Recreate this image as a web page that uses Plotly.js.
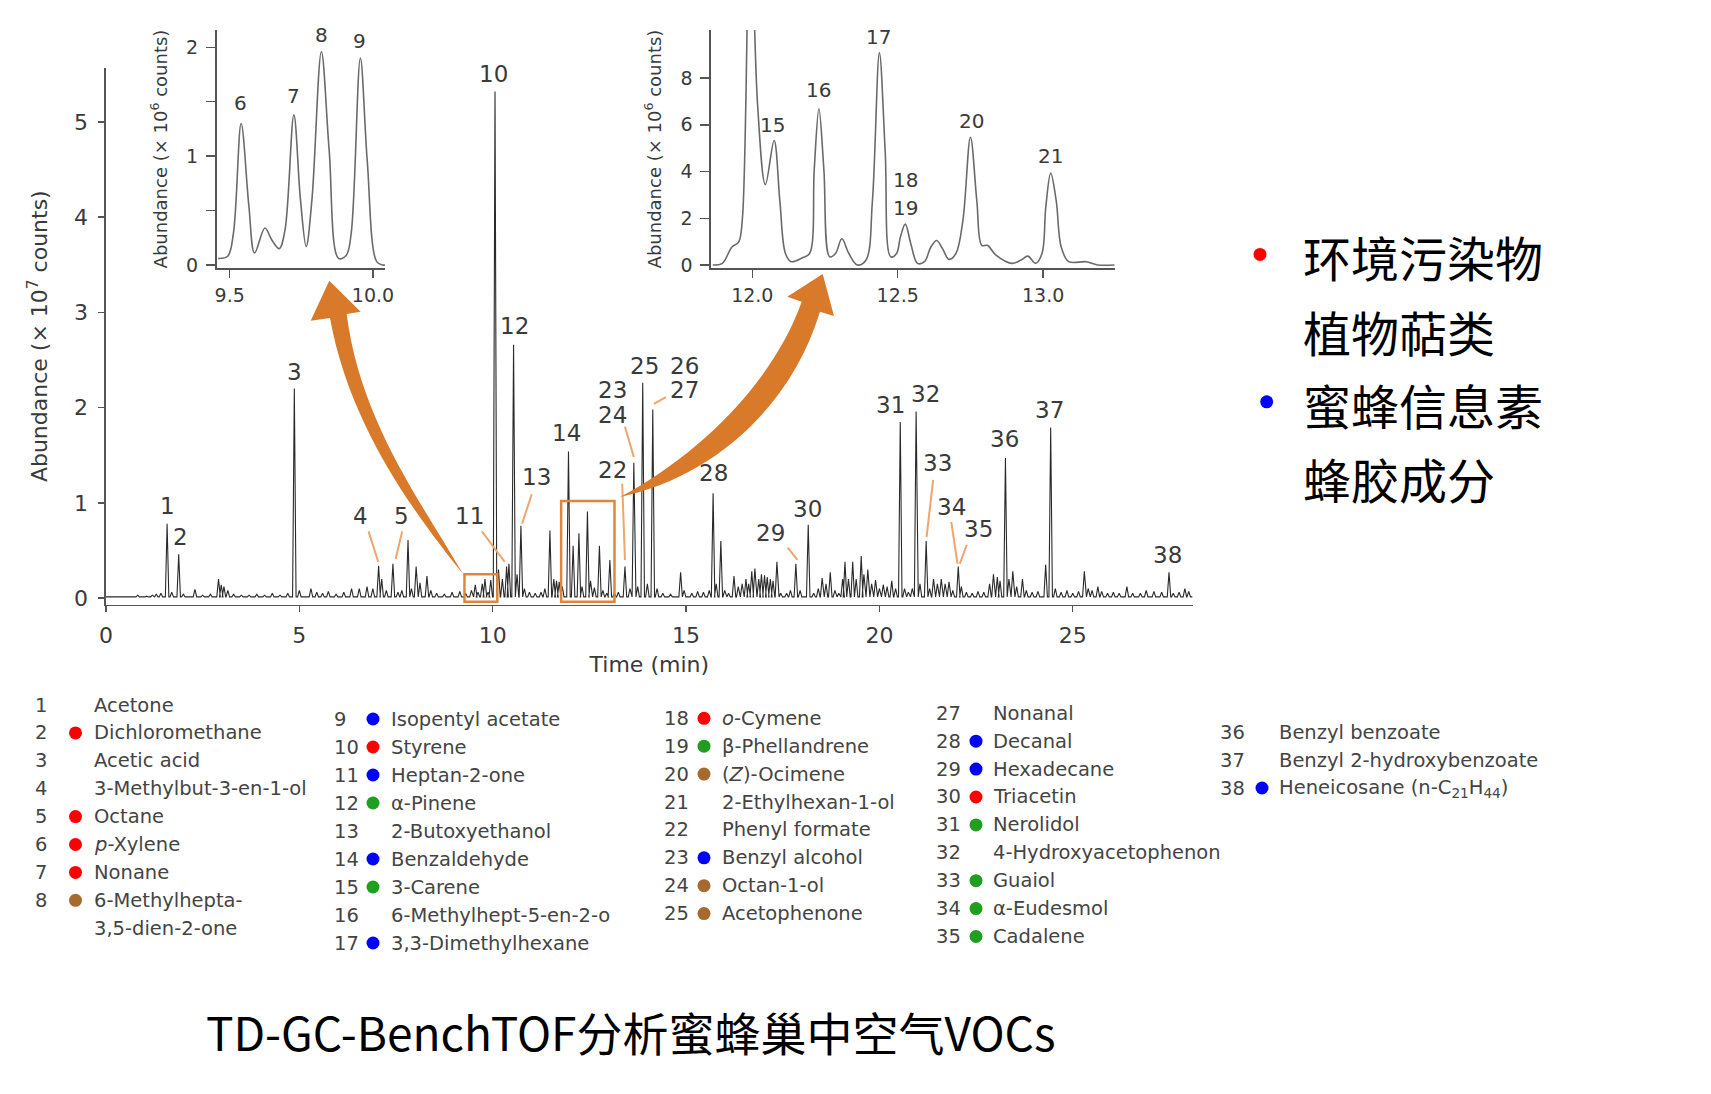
<!DOCTYPE html>
<html><head><meta charset="utf-8">
<script src="https://cdn.plot.ly/plotly-3.0.1.min.js"></script>
<style>html,body{margin:0;padding:0;background:#fff}#chart{width:1711px;height:1094px}</style>
</head><body><div id="chart"></div>
<script>
// ---------------- DATA ----------------
// Main chromatogram: peak retention times (min) and apex abundances (x 10^7 counts)
const peakRT = [0.3,0.82,1.05,1.2,1.3,1.42,1.58,1.7,1.88,2.0,2.3,2.5,2.7,2.91,2.98,3.05,3.15,3.3,3.5,3.7,3.9,4.1,4.3,4.5,4.7,4.87,5.0,5.3,5.45,5.6,5.75,5.95,6.15,6.35,6.55,6.75,6.9,7.05,7.13,7.25,7.42,7.55,7.65,7.81,7.9,8.02,8.12,8.3,8.4,8.55,8.75,8.95,9.15,9.3,9.45,9.55,9.62,9.73,9.8,9.88,9.95,10.06,10.15,10.25,10.36,10.42,10.54,10.63,10.73,10.82,10.95,11.1,11.25,11.35,11.48,11.58,11.65,11.72,11.8,11.96,12.08,12.23,12.31,12.45,12.53,12.63,12.76,12.85,12.95,13.03,13.15,13.25,13.42,13.55,13.65,13.75,13.88,14.0,14.14,14.25,14.4,14.6,14.86,14.95,15.15,15.3,15.45,15.6,15.7,15.78,15.9,16.0,16.1,16.24,16.35,16.45,16.55,16.62,16.7,16.78,16.88,16.95,17.03,17.1,17.18,17.25,17.35,17.45,17.6,17.7,17.84,17.95,18.16,18.3,18.42,18.52,18.62,18.73,18.85,18.95,19.05,19.11,19.2,19.31,19.4,19.53,19.6,19.7,19.8,19.9,20.0,20.1,20.2,20.32,20.42,20.54,20.65,20.75,20.85,20.95,21.05,21.21,21.3,21.4,21.5,21.6,21.7,21.8,21.9,22.04,22.12,22.25,22.4,22.55,22.7,22.85,22.95,23.05,23.12,23.26,23.35,23.45,23.55,23.7,23.8,23.95,24.1,24.3,24.43,24.55,24.7,24.85,25.0,25.15,25.3,25.4,25.5,25.65,25.75,25.9,26.05,26.2,26.4,26.55,26.75,26.9,27.1,27.3,27.49,27.6,27.75,27.9,28.0];
const peakHeight = [0.01,0.03,0.02,0.03,0.04,0.05,0.78,0.06,0.46,0.04,0.09,0.03,0.04,0.2,0.14,0.12,0.08,0.04,0.03,0.03,0.04,0.03,0.05,0.03,0.05,2.2,0.08,0.1,0.06,0.05,0.07,0.04,0.06,0.1,0.1,0.12,0.1,0.34,0.2,0.08,0.36,0.06,0.08,0.61,0.1,0.33,0.16,0.23,0.08,0.05,0.04,0.06,0.07,0.05,0.08,0.14,0.06,0.15,0.2,0.06,0.19,5.32,0.3,0.2,0.33,0.36,2.66,0.25,0.76,0.1,0.06,0.05,0.06,0.1,0.71,0.2,0.18,0.17,0.12,1.54,0.55,0.68,0.12,0.91,0.18,0.11,0.55,0.08,0.05,0.4,0.05,0.06,0.33,0.1,1.42,0.12,2.26,0.15,1.98,0.1,0.05,0.04,0.27,0.08,0.05,0.07,0.06,0.08,1.1,0.15,0.6,0.08,0.05,0.23,0.12,0.15,0.2,0.15,0.28,0.31,0.2,0.25,0.24,0.22,0.2,0.18,0.38,0.05,0.05,0.08,0.36,0.08,0.77,0.05,0.1,0.21,0.15,0.27,0.08,0.05,0.2,0.38,0.2,0.38,0.2,0.44,0.25,0.3,0.15,0.19,0.1,0.14,0.12,0.18,0.1,1.85,0.1,0.06,0.1,1.96,0.15,0.6,0.1,0.2,0.15,0.2,0.15,0.17,0.08,0.33,0.12,0.06,0.05,0.07,0.06,0.15,0.25,0.22,0.18,1.47,0.2,0.28,0.12,0.2,0.08,0.06,0.07,0.35,1.79,0.1,0.06,0.08,0.05,0.07,0.28,0.1,0.08,0.12,0.07,0.05,0.06,0.05,0.12,0.05,0.05,0.08,0.07,0.06,0.27,0.05,0.06,0.1,0.07];

// Inset 1 (9.45-10.05 min), abundance x 10^6 counts
const inset1Time = [9.46,9.493,9.513,9.54,9.567,9.587,9.623,9.647,9.673,9.693,9.724,9.747,9.767,9.787,9.82,9.847,9.88,9.907,9.924,9.956,9.98,10.013,10.033,10.042];
const inset1Abund = [0.06,0.08,0.29,1.30,0.54,0.11,0.34,0.23,0.15,0.32,1.38,0.60,0.17,0.60,1.96,1.06,0.06,0.09,0.29,1.90,0.96,0.03,0.0,0.0];

// Inset 2 (11.86-13.25 min), abundance x 10^6 counts
const inset2Time = [11.864,11.897,11.93,11.953,11.966,11.993,12.018,12.045,12.075,12.095,12.114,12.134,12.174,12.197,12.213,12.229,12.246,12.266,12.286,12.308,12.332,12.361,12.391,12.413,12.437,12.457,12.476,12.496,12.509,12.526,12.545,12.568,12.592,12.614,12.634,12.654,12.676,12.7,12.724,12.75,12.772,12.789,12.808,12.838,12.891,12.924,12.947,12.974,12.996,13.009,13.026,13.045,13.062,13.088,13.147,13.187,13.246];
const inset2Abund = [0,0.07,0.77,0.98,2.0,15.4,6.9,3.44,5.33,2.7,0.49,0.14,0.32,0.49,4.1,6.69,4.1,0.35,0.49,1.12,0.49,0,0.21,2.74,9.08,4.84,0.35,0.49,1.19,1.75,0.91,0.07,0.14,0.77,1.05,0.7,0.24,0.49,1.9,5.47,2.74,0.84,0.84,0.42,0.07,0.21,0.38,0.07,0.49,2.46,3.93,2.74,0.77,0.14,0.14,0,0];

// Peak labels
const mainLabelText = ['1','2','3','4','5','10','11','12','13','14','22','23','24','25','26','27','28','29','30','31','32','33','34','35','36','37','38'];
const mainLabelRT   = [1.58,1.92,4.87,6.59,7.63,10.03,9.41,10.56,11.13,11.92,13.1,13.1,13.1,13.92,14.96,14.96,15.72,17.18,18.14,20.28,21.18,21.49,21.86,22.56,23.24,24.39,27.46];
const mainLabelAbund= [0.97,0.64,2.37,0.86,0.86,5.5,0.86,2.86,1.27,1.73,1.35,2.19,1.92,2.44,2.44,2.19,1.31,0.68,0.94,2.03,2.14,1.42,0.96,0.72,1.67,1.98,0.45];
const inset1LabelText = ['6','7','8','9'];
const inset1LabelRT = [9.537,9.724,9.82,9.953];
const inset1LabelAbund = [1.49,1.55,2.11,2.06];
const inset2LabelText = ['15','16','17','18','19','20','21'];
const inset2LabelRT = [12.068,12.226,12.434,12.525,12.525,12.753,13.025];
const inset2LabelAbund = [6.0,7.48,9.78,3.65,2.46,6.18,4.67];

// Compound list
const compoundNo = [1,2,3,4,5,6,7,8,9,10,11,12,13,14,15,16,17,18,19,20,21,22,23,24,25,27,28,29,30,31,32,33,34,35,36,37,38];
const compoundName = ['Acetone','Dichloromethane','Acetic acid','3-Methylbut-3-en-1-ol','Octane','<i>p</i>-Xylene','Nonane','6-Methylhepta-<br>3,5-dien-2-one','Isopentyl acetate','Styrene','Heptan-2-one','α-Pinene','2-Butoxyethanol','Benzaldehyde','3-Carene','6-Methylhept-5-en-2-o','3,3-Dimethylhexane','<i>o</i>-Cymene','β-Phellandrene','(<i>Z</i>)-Ocimene','2-Ethylhexan-1-ol','Phenyl formate','Benzyl alcohol','Octan-1-ol','Acetophenone','Nonanal','Decanal','Hexadecane','Triacetin','Nerolidol','4-Hydroxyacetophenon','Guaiol','α-Eudesmol','Cadalene','Benzyl benzoate','Benzyl 2-hydroxybenzoate','Heneicosane (n-C<sub>21</sub>H<sub>44</sub>)'];
const compoundClass = ['','P','','','P','P','P','R','B','P','B','T','','B','T','','B','P','T','R','','','B','R','R','','B','B','P','T','','T','T','T','','','B'];

// Category legend
const legendLabels = ['环境污染物','植物萜类','蜜蜂信息素','蜂胶成分'];
const legendClass = ['P','','B',''];
const titleText = 'TD-GC-BenchTOF分析蜜蜂巢中空气VOCs';

// ---------------- STYLE / LAYOUT ----------------
const W = 1711, H = 1094;
const px = x => x / W, py = y => 1 - y / H;
const classColor = {P:'#ff0000', T:'#1f9e1f', B:'#0000ff', R:'#a8692f'};
const ORANGE = '#d97a2b', LEADER = '#f0a46e';
const AXC = '#555', TXT = '#3a3a3a';
const tickFont = {family:'DejaVu Sans', size:22, color:TXT};
const smallTick = {family:'DejaVu Sans', size:19, color:TXT};

// main chromatogram spikes
const BASE = 0.012, HW = 0.045;
const order = peakRT.map((t,i)=>i).sort((a,b)=>peakRT[a]-peakRT[b]);
const mx = [0], my = [BASE];
order.forEach(i => { const t = peakRT[i];
  mx.push(t-HW, t, t+HW); my.push(BASE, peakHeight[i], BASE); });
mx.push(28.1); my.push(BASE);

const traces = [
  {x:mx, y:my, type:'scatter', mode:'lines', line:{color:'#2a2a2a', width:1.1}, xaxis:'x', yaxis:'y', hoverinfo:'skip'},
  {x:inset1Time, y:inset1Abund, type:'scatter', mode:'lines', line:{color:'#6a6a6a', width:1.6, shape:'spline', smoothing:1}, xaxis:'x2', yaxis:'y2', hoverinfo:'skip'},
  {x:inset2Time, y:inset2Abund, type:'scatter', mode:'lines', line:{color:'#6a6a6a', width:1.6, shape:'spline', smoothing:1}, xaxis:'x3', yaxis:'y3', hoverinfo:'skip'}
];

const annotations = [];
mainLabelText.forEach((t,i)=>annotations.push({xref:'x', yref:'y', x:mainLabelRT[i], y:mainLabelAbund[i], text:t, showarrow:false, xanchor:'center', yanchor:'middle', font:{family:'DejaVu Sans', size:23, color:TXT}}));
inset1LabelText.forEach((t,i)=>annotations.push({xref:'x2', yref:'y2', x:inset1LabelRT[i], y:inset1LabelAbund[i], text:t, showarrow:false, font:{family:'DejaVu Sans', size:20, color:TXT}}));
inset2LabelText.forEach((t,i)=>annotations.push({xref:'x3', yref:'y3', x:inset2LabelRT[i], y:inset2LabelAbund[i], text:t, showarrow:false, font:{family:'DejaVu Sans', size:20, color:TXT}}));

const shapes = [];
// zoom boxes
shapes.push({type:'rect', xref:'x', yref:'y', x0:9.27, x1:10.12, y0:-0.04, y1:0.25, line:{color:'#e0863a', width:2.5}});
shapes.push({type:'rect', xref:'x', yref:'y', x0:11.77, x1:13.15, y0:-0.04, y1:1.02, line:{color:'#e0863a', width:2.5}});
// leader lines
[[6.79,0.70,7.04,0.38],[7.66,0.70,7.49,0.41],[9.72,0.70,10.31,0.38],[11.01,1.09,10.76,0.78],[13.35,1.2,13.42,0.4],[13.42,1.8,13.65,1.48],[14.17,2.04,14.48,2.11],[17.63,0.53,17.88,0.4],[21.39,1.24,21.22,0.64],[21.86,0.80,22.02,0.36],[22.26,0.56,22.08,0.36]]
 .forEach(l=>shapes.push({type:'line', xref:'x', yref:'y', x0:l[0], y0:l[1], x1:l[2], y1:l[3], line:{color:LEADER, width:2}}));
// curved arrows (pixel geometry -> paper)
function pathFromPx(cmds){ return cmds.map(c => typeof c === 'string' ? c : (px(c[0]).toFixed(5)+','+py(c[1]).toFixed(5))).join(' '); }
shapes.push({type:'path', xref:'paper', yref:'paper', layer:'above', fillcolor:ORANGE, line:{width:0},
  path: pathFromPx(['M',[463,574],'C',[420,520],[350,430],[330,318],'L',[310.7,320.7],'L',[329.3,280.7],'L',[360.7,311.7],'L',[346.7,314],'C',[360,420],[420,500],[463,574],'Z'])});
shapes.push({type:'path', xref:'paper', yref:'paper', layer:'above', fillcolor:ORANGE, line:{width:0},
  path: pathFromPx(['M',[620,497],'C',[690,460],[770,390],[801.7,301.7],'L',[787.3,296.7],'L',[822.7,274],'L',[834,316],'L',[820,311.7],'C',[790,410],[710,478],[620,497],'Z'])});

// compound list columns
const cols = [
  {first:0, n:9, numX:33, dotX:75.5, nameX:92, y0:705, dy:27.9},
  {first:8, n:9, numX:332, dotX:373, nameX:389, y0:719, dy:28},
  {first:17, n:8, numX:662, dotX:704, nameX:720, y0:718.3, dy:27.9},
  {first:25, n:9, numX:934, dotX:976, nameX:991, y0:713.3, dy:27.9},
  {first:34, n:3, numX:1218, dotX:1262, nameX:1277, y0:732.2, dy:27.9}
];
const listFont = {family:'DejaVu Sans', size:19.5, color:'#444'};
const R = 6.5;
cols.forEach(c=>{
  let row = 0;
  for (let k=0; k<c.n && row<c.n; k++){
    const i = c.first + k;
    if (i >= compoundNo.length) break;
    if (c.first===0 && i>7) break;
    const y = c.y0 + row*c.dy;
    annotations.push({xref:'paper', yref:'paper', x:px(c.numX), y:py(y), xanchor:'left', yanchor:'middle', text:String(compoundNo[i]), showarrow:false, font:listFont});
    const lines = compoundName[i].split('<br>');
    lines.forEach((ln,j)=>annotations.push({xref:'paper', yref:'paper', x:px(c.nameX), y:py(y + j*c.dy), xanchor:'left', yanchor:'middle', text:ln, showarrow:false, font:listFont}));
    const cl = compoundClass[i];
    if (cl) shapes.push({type:'circle', xref:'paper', yref:'paper', x0:px(c.dotX-R), x1:px(c.dotX+R), y0:py(y+R), y1:py(y-R), fillcolor:classColor[cl], line:{width:0}});
    row += lines.length;
  }
});

// category legend on the right
const legY = [256.4, 330.6, 403.8, 478];
const legDotX = [1260, 0, 1266.7, 0];
legendLabels.forEach((t,i)=>{
  annotations.push({xref:'paper', yref:'paper', x:px(1301), y:py(legY[i]), xanchor:'left', yanchor:'middle', text:t, showarrow:false, font:{family:'Noto Sans CJK SC', size:48, color:'#000'}});
  if (legendClass[i]) shapes.push({type:'circle', xref:'paper', yref:'paper', x0:px(legDotX[i]-6.5), x1:px(legDotX[i]+6.5), y0:py(legY[i]-2+6.5), y1:py(legY[i]-2-6.5), fillcolor:classColor[legendClass[i]], line:{width:0}});
});

const axisCommon = {showline:true, linecolor:AXC, linewidth:1.6, ticks:'outside', tickcolor:AXC, tickwidth:1.4, showgrid:false, zeroline:false};

const layout = {
  width:W, height:H, margin:{l:0, r:0, t:0, b:0},
  paper_bgcolor:'#fff', plot_bgcolor:'rgba(0,0,0,0)', showlegend:false,
  title:{text:titleText, x:px(630.7), xanchor:'center', y:py(1034.5), yanchor:'middle', yref:'paper', font:{family:'Noto Sans CJK SC', size:46, color:'#000'}},
  xaxis: Object.assign({}, axisCommon, {domain:[px(106), px(1192.6)], range:[0,28.1], anchor:'y', tickvals:[0,5,10,15,20,25], ticklen:6, tickfont:tickFont, ticklabelstandoff:4,
    title:{text:'Time (min)', font:{family:'DejaVu Sans', size:22, color:TXT}, standoff:10}}),
  yaxis: Object.assign({}, axisCommon, {domain:[py(604.7), py(67.7)], range:[-0.07,5.57], anchor:'x', tickvals:[0,1,2,3,4,5], ticklen:6, tickfont:tickFont, ticklabelstandoff:6,
    title:{text:'Abundance (× 10<sup>7</sup> counts)', font:{family:'DejaVu Sans', size:22, color:TXT}, standoff:20}}),
  xaxis2: Object.assign({}, axisCommon, {domain:[px(216.5), px(385)], range:[9.454,10.042], anchor:'y2', tickvals:[9.5,10.0], ticktext:['9.5','10.0'], ticklen:8, tickfont:smallTick, ticklabelstandoff:2}),
  yaxis2: Object.assign({}, axisCommon, {domain:[py(268), py(30)], range:[-0.028,2.16], anchor:'x2', tickmode:'linear', tick0:0, dtick:1, ticklen:9, tickfont:smallTick, ticklabelstandoff:4,
    minor:{tick0:0, dtick:0.5, ticks:'outside', ticklen:9, tickwidth:1.4, tickcolor:AXC, showgrid:false},
    title:{text:'Abundance (× 10<sup>6</sup> counts)', font:{family:'DejaVu Sans', size:18, color:TXT}, standoff:14}}),
  xaxis3: Object.assign({}, axisCommon, {domain:[px(711), px(1114.7)], range:[11.858,13.246], anchor:'y3', tickvals:[12,12.5,13], ticktext:['12.0','12.5','13.0'], ticklen:8, tickfont:smallTick, ticklabelstandoff:2}),
  yaxis3: Object.assign({}, axisCommon, {domain:[py(268), py(30)], range:[-0.13,10.06], anchor:'x3', tickvals:[0,2,4,6,8], ticklen:9, tickfont:smallTick, ticklabelstandoff:4,
    title:{text:'Abundance (× 10<sup>6</sup> counts)', font:{family:'DejaVu Sans', size:18, color:TXT}, standoff:14}}),
  annotations: annotations, shapes: shapes
};

Plotly.newPlot('chart', traces, layout, {staticPlot:true, displayModeBar:false});
</script></body></html>
